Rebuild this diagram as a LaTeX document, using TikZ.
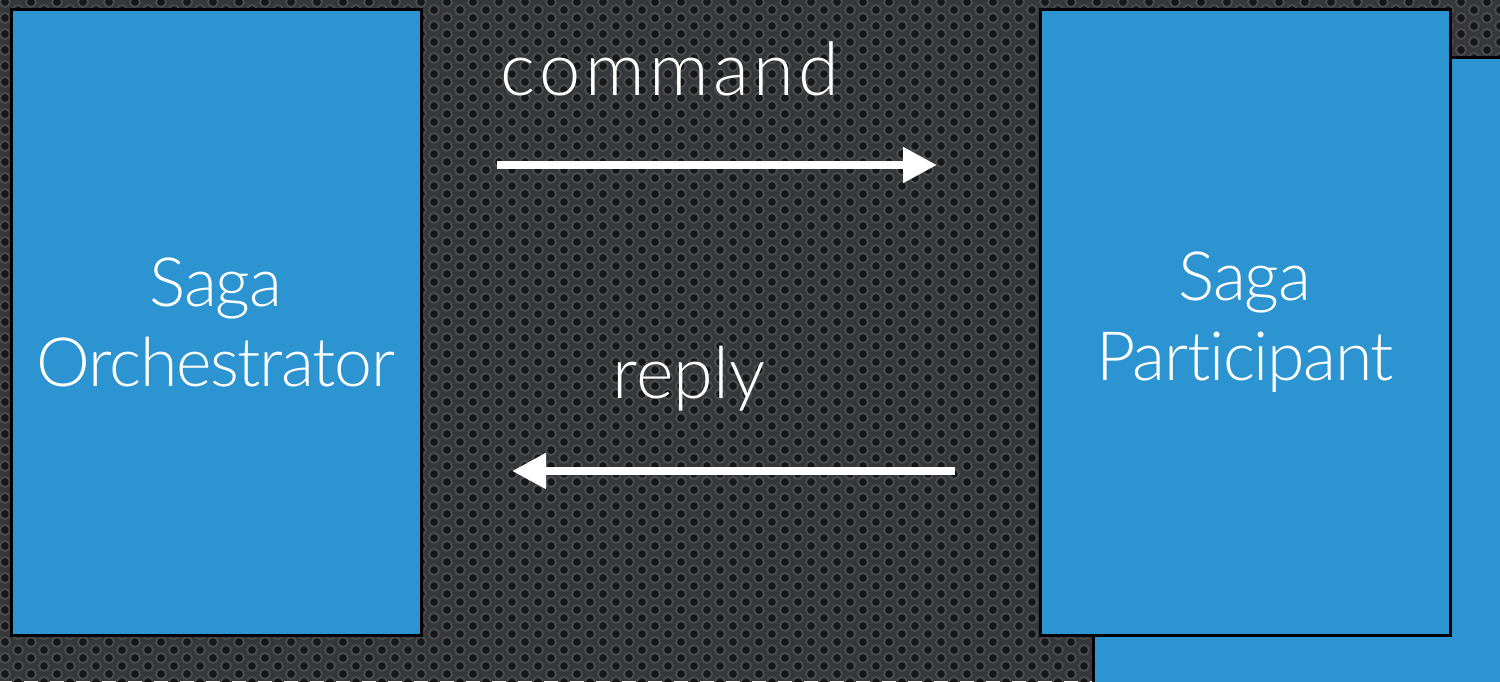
\documentclass[tikz,border=0pt]{standalone}
\usepackage{fontspec}
\setmainfont{Lato Light}[Ligatures=NoCommon]
\usetikzlibrary{arrows.meta}
\definecolor{bgbase}{RGB}{54,55,58}
\definecolor{holefill}{RGB}{22,21,23}
\definecolor{holerim}{RGB}{74,75,78}
\definecolor{sagablue}{RGB}{44,148,209}
\tikzset{
  hole/.style={fill=holefill, draw=holerim, line width=1pt},
  sagabox/.style={draw=black, fill=sagablue, line width=1.5pt, inner sep=0pt, outer sep=0pt,
    minimum width=205pt, minimum height=313pt, text=white, align=center,
    font=\fontsize{34}{40}\selectfont\addfontfeature{LetterSpace=-2}},
  label/.style={text=white, inner sep=0pt},
  msg/.style={draw=white, line width=4pt, -{Triangle[length=17pt,width=17pt]}}
}
\begin{document}
\begin{tikzpicture}[x=0.5pt,y=-0.5pt]
\useasboundingbox (0,0) rectangle (1500,681);
\fill[bgbase] (0,0) rectangle (1500,681);
\begin{scope}
\clip (0,0) rectangle (1500,681);
\foreach \c in {0,...,116} {
  \pgfmathsetmacro\off{mod(\c,2)*8}
  \foreach \r in {0,...,43} {
    \filldraw[hole] (\c*13+5, \r*16+\off+2) circle (5);
  }
}
\end{scope}
% back box
\node[sagabox, minimum width=260pt, minimum height=380pt, anchor=north west] (back) at (1093.5,57.5) {};
% main boxes
\node[sagabox] (orch) at (216,322) {Saga\\Orchestrator};
\node[sagabox] (part) at (1245,322) {Saga\\Participant};
% labels
\node[label, anchor=base, font=\fontsize{37}{40}\selectfont\addfontfeature{LetterSpace=6}] (cmd) at (670,95) {command};
\node[label, anchor=base, font=\fontsize{36}{40}\selectfont] (rep) at (689,398) {reply};
% arrows
\coordinate (c1) at (497,165);
\coordinate (c2) at (937,165);
\coordinate (r1) at (955,471);
\coordinate (r2) at (512,471);
\draw[msg] (c1) -- (c2);
\draw[msg] (r1) -- (r2);
\end{tikzpicture}
\end{document}
